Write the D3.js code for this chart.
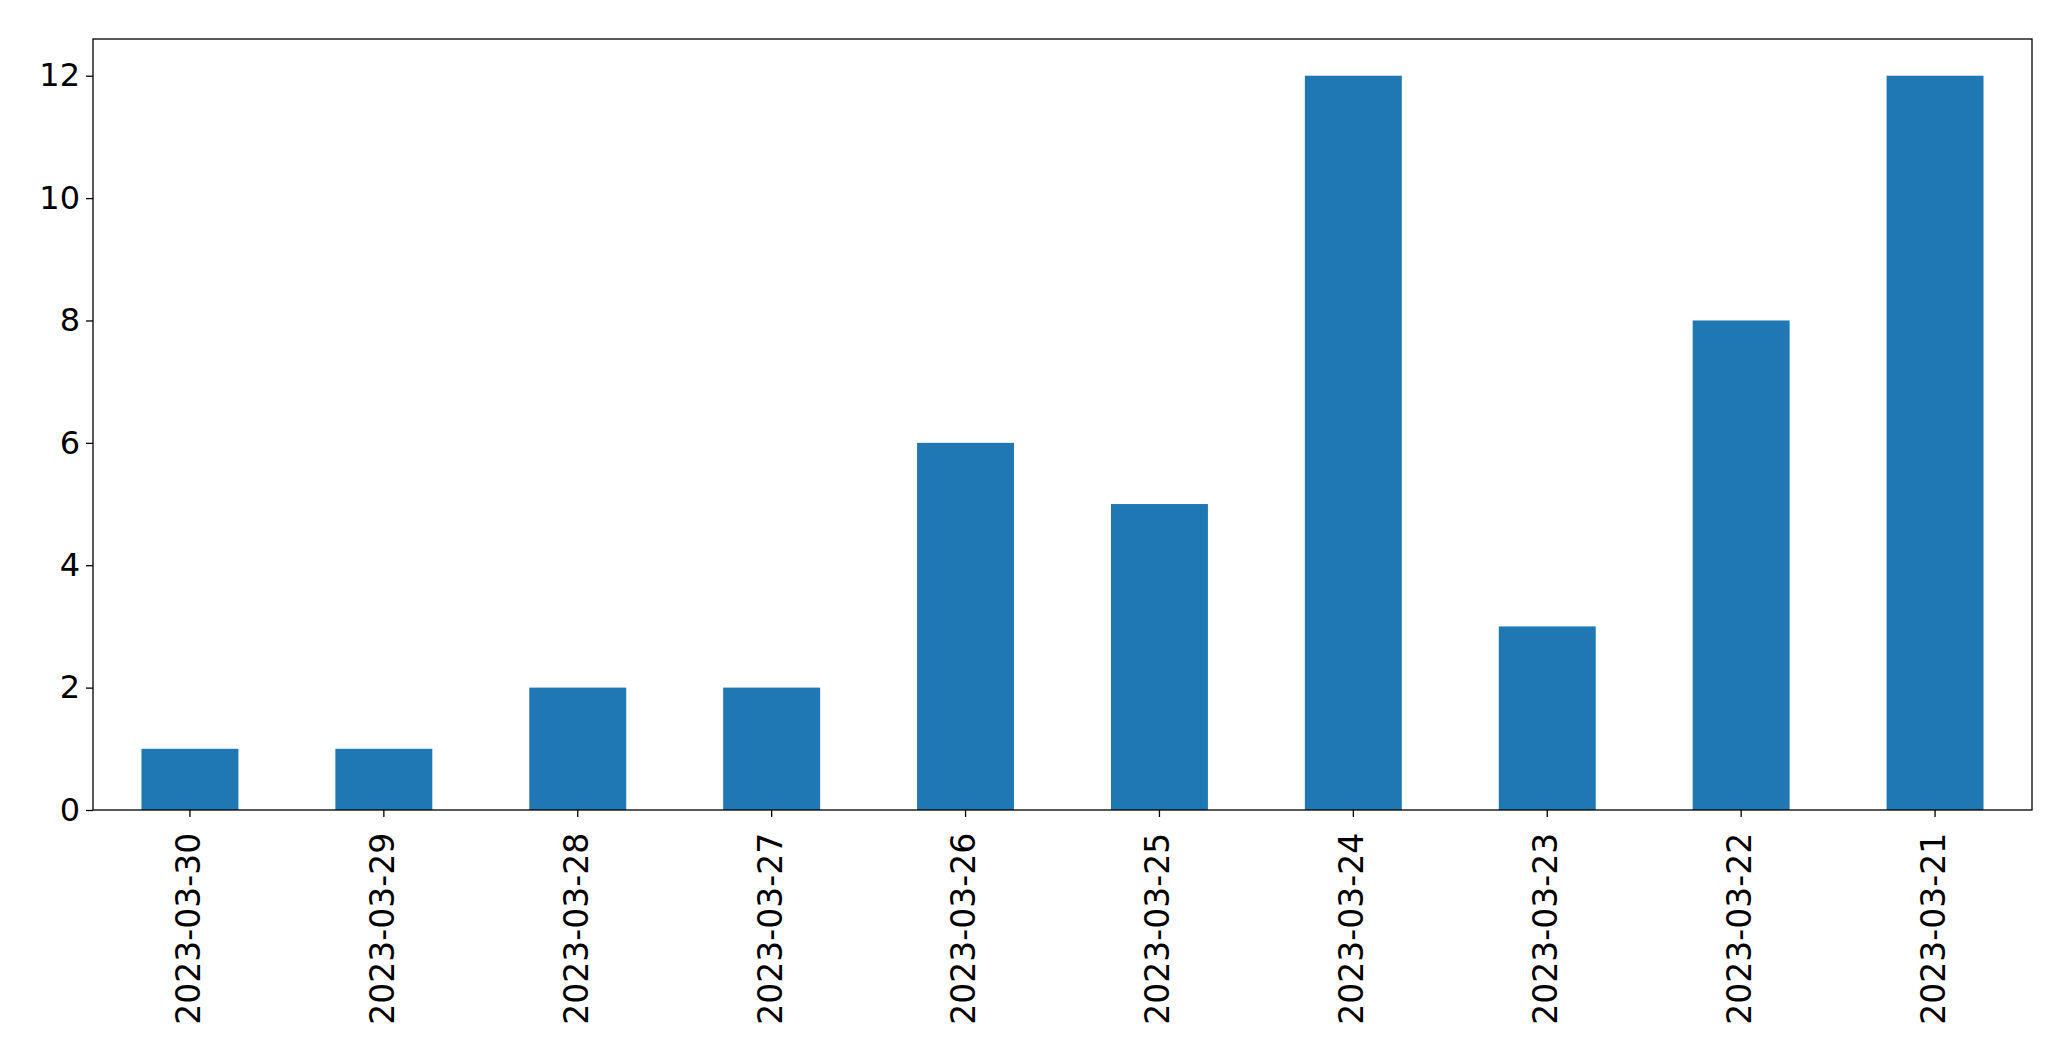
<!DOCTYPE html>
<html><head><meta charset="utf-8">
<script src="https://cdn.jsdelivr.net/npm/d3@7"></script>
<style>body{margin:0;background:#fff}</style>
</head><body>
<script>
const categories = ["2023-03-30","2023-03-29","2023-03-28","2023-03-27","2023-03-26","2023-03-25","2023-03-24","2023-03-23","2023-03-22","2023-03-21"];
const values = [1,1,2,2,6,5,12,3,8,12];
const yTicks = [0,2,4,6,8,10,12];

const W = 2071, H = 1061;
const m = {left: 93, right: 2032, top: 39, bottom: 810};
const svg = d3.select("body").append("svg").attr("width", W).attr("height", H);
const x = d3.scaleBand().domain(categories).range([m.left, m.right]).paddingInner(0.5).paddingOuter(0.25);
const y = d3.scaleLinear().domain([0, 12.6]).range([m.bottom, m.top]);

svg.selectAll("rect.bar").data(values).join("rect").attr("class","bar")
  .attr("x", (d,i) => x(categories[i])).attr("width", x.bandwidth())
  .attr("y", d => y(d)).attr("height", d => y(0) - y(d)).attr("fill", "#1f77b4");

const ya = svg.append("g").attr("transform", `translate(${m.left},0)`)
  .call(d3.axisLeft(y).tickValues(yTicks).tickSize(7).tickPadding(6).tickFormat(d3.format("d")));
ya.selectAll("text").attr("font-family","DejaVu Sans").attr("font-size", 32).attr("fill","#000");
ya.select(".domain").remove();

const xa = svg.append("g").attr("transform", `translate(0,${m.bottom})`)
  .call(d3.axisBottom(x).tickSize(7).tickPadding(8));
xa.select(".domain").remove();
xa.selectAll("text").attr("font-family","DejaVu Sans").attr("font-size", 33).attr("fill","#000")
  .attr("transform","rotate(-90)").attr("text-anchor","end").attr("dx","-0.45em").attr("dy","-0.05em").attr("y",0)
  .attr("x",-8).style("dominant-baseline","central");
svg.selectAll(".tick line").attr("stroke","#000").attr("stroke-width",1.3);

svg.append("rect").attr("x", m.left).attr("y", m.top).attr("width", m.right-m.left).attr("height", m.bottom-m.top)
  .attr("fill","none").attr("stroke","#000").attr("stroke-width",1.3);
</script>
</body></html>
